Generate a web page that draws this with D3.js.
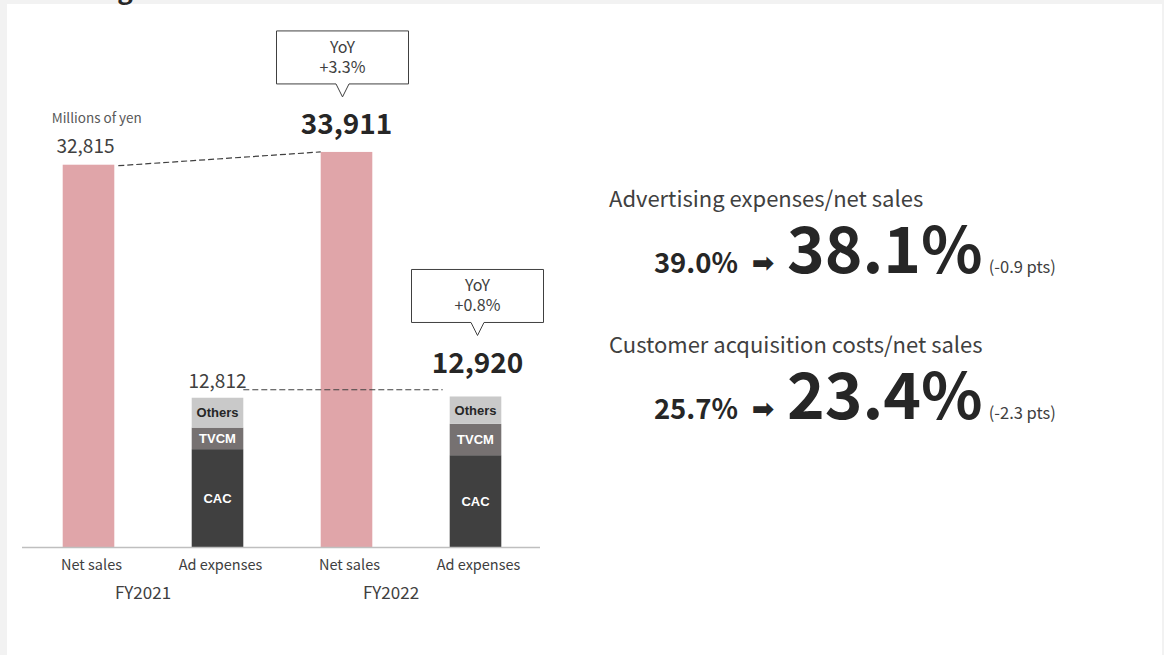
<!DOCTYPE html>
<html lang="en">
<head>
<meta charset="UTF-8"/>
<title>Net sales and advertising expenses</title>
<script src="https://d3js.org/d3.v7.min.js"></script>
<style>
	body { margin: 0; background: #f2f2f2; }
	svg { display: block; }
	text { font-family: "Noto Sans CJK JP", "Noto Sans", sans-serif; }
</style>
</head>
<body>
<script>
	// ***Data***
	var years = ["FY2021", "FY2022"];
	var netSales = [32815, 33911];
	var adExpenses = [12812, 12920];
	var segKeys = ["CAC", "TVCM", "Others"];
	var cac = [8400, 7880];
	var tvcm = [1850, 2690];
	var others = [2562, 2350];
	var yoyLabels = ["+3.3%", "+0.8%"];
	var barLabels = ["Net sales", "Ad expenses"];

	var ratioNames = ["Advertising expenses/net sales", "Customer acquisition costs/net sales"];
	var ratioPrev = [39.0, 25.7];
	var ratioCurr = [38.1, 23.4];
	var ratioChange = [-0.9, -2.3];

	// ***Variable declarations***
	var w = 1164;
	var h = 655;
	var baseY = 547;

	var slots = [];
	years.forEach(function(y) {
		barLabels.forEach(function(b) { slots.push(y + "|" + b); });
	});

	var xScale = d3.scaleBand()
		.domain(slots)
		.range([24, 540])
		.paddingInner(0.6)
		.paddingOuter(0.3);

	var yScale = d3.scaleLinear()
		.domain([0, 40000])
		.range([baseY, 81]);

	var segColor = d3.scaleOrdinal()
		.domain(segKeys)
		.range(["#404040", "#767171", "#c9c9c9"]);
	var segText = d3.scaleOrdinal()
		.domain(segKeys)
		.range(["#ffffff", "#ffffff", "#262626"]);

	var bw = xScale.bandwidth();
	var fmt = d3.format(",");

	var svg = d3.select("body")
		.append("svg")
		.attr("width", w)
		.attr("height", h);

	// panel + clipped heading from the slide above
	svg.append("rect")
		.attr("x", 7).attr("y", 4)
		.attr("width", 1155).attr("height", h)
		.attr("fill", "#ffffff");
	svg.append("text")
		.attr("x", 50).attr("y", -1)
		.attr("font-size", 26).attr("font-weight", "bold")
		.attr("fill", "#262626")
		.text("strong.");

	// ***Net sales bars***
	var netData = years.map(function(y, i) {
		return { year: y, i: i, value: netSales[i], slot: y + "|Net sales" };
	});
	svg.selectAll("rect.net")
		.data(netData)
		.enter()
		.append("rect")
		.attr("class", "net")
		.attr("x", function(d) { return xScale(d.slot); })
		.attr("y", function(d) { return yScale(d.value); })
		.attr("width", bw)
		.attr("height", function(d) { return baseY - yScale(d.value); })
		.attr("fill", "#e0a5a9");

	// ***Ad expense stacks***
	var stackRows = years.map(function(y, i) {
		return { year: y, CAC: cac[i], TVCM: tvcm[i], Others: others[i] };
	});
	var stacked = d3.stack().keys(segKeys)(stackRows);

	var layers = svg.selectAll("g.layer")
		.data(stacked)
		.enter()
		.append("g")
		.attr("class", "layer");

	function segRows(layer) {
		return layer.map(function(d) { return { key: layer.key, d0: d[0], d1: d[1], year: d.data.year }; });
	}

	layers.selectAll("rect")
		.data(segRows)
		.enter()
		.append("rect")
		.attr("x", function(d) { return xScale(d.year + "|Ad expenses"); })
		.attr("y", function(d) { return yScale(d.d1); })
		.attr("width", bw)
		.attr("height", function(d) { return yScale(d.d0) - yScale(d.d1); })
		.attr("fill", function(d) { return segColor(d.key); });

	layers.selectAll("text")
		.data(segRows)
		.enter()
		.append("text")
		.attr("x", function(d) { return xScale(d.year + "|Ad expenses") + bw / 2; })
		.attr("y", function(d) { return (yScale(d.d0) + yScale(d.d1)) / 2; })
		.attr("dy", "0.36em")
		.attr("text-anchor", "middle")
		.style("font-family", "'Liberation Sans', Arial, sans-serif")
		.attr("font-size", 13)
		.attr("font-weight", "bold")
		.attr("fill", function(d) { return segText(d.key); })
		.text(function(d) { return d.key; });

	// ***Axis line***
	svg.append("line")
		.attr("x1", 22).attr("x2", 540)
		.attr("y1", baseY + 0.5).attr("y2", baseY + 0.5)
		.attr("stroke", "#bfbfbf")
		.attr("stroke-width", 1.5);

	svg.selectAll("text.cat")
		.data(slots)
		.enter()
		.append("text")
		.attr("class", "cat")
		.attr("x", function(d) { return xScale(d) + bw / 2 + 3; })
		.attr("y", 570)
		.attr("text-anchor", "middle")
		.attr("font-size", 14.5)
		.attr("fill", "#404040")
		.text(function(d) { return d.split("|")[1]; });

	svg.selectAll("text.year")
		.data(years)
		.enter()
		.append("text")
		.attr("class", "year")
		.attr("x", function(d, i) { return (xScale(d + "|Net sales") + xScale(d + "|Ad expenses") + bw) / 2 - 10 - 10 * i; })
		.attr("y", 599)
		.attr("text-anchor", "middle")
		.attr("font-size", 17)
		.attr("fill", "#404040")
		.text(function(d) { return d; });

	// ***Value labels***
	svg.append("text")
		.attr("x", xScale(slots[0]) - 11)
		.attr("y", yScale(netSales[0]) - 42)
		.attr("font-size", 13.5)
		.attr("fill", "#595959")
		.text("Millions of yen");

	function valueLabel(slot, v, current, dx, gap) {
		svg.append("text")
			.attr("x", xScale(slot) + bw / 2 + dx)
			.attr("y", yScale(v) - gap)
			.attr("text-anchor", "middle")
			.attr("font-size", current ? 28 : 19)
			.attr("font-weight", current ? "bold" : "normal")
			.attr("fill", current ? "#262626" : "#404040")
			.text(fmt(v));
	}
	valueLabel(slots[0], netSales[0], false, -3, 12);
	valueLabel(slots[2], netSales[1], true, 0, 18);
	valueLabel(slots[1], adExpenses[0], false, 0, 10);
	valueLabel(slots[3], adExpenses[1], true, 2, 23);

	// dashed connectors
	svg.append("line")
		.attr("x1", xScale(slots[0]) + bw + 4).attr("y1", yScale(netSales[0]) + 1)
		.attr("x2", xScale(slots[2])).attr("y2", yScale(netSales[1]))
		.attr("stroke", "#404040").attr("stroke-width", 1.2)
		.attr("stroke-dasharray", "6,3");
	svg.append("line")
		.attr("x1", xScale(slots[1]) + bw).attr("y1", yScale(adExpenses[0]) - 8)
		.attr("x2", xScale(slots[3]) - 7).attr("y2", yScale(adExpenses[0]) - 8)
		.attr("stroke", "#404040").attr("stroke-width", 1.2)
		.attr("stroke-dasharray", "6,3");

	// ***YoY callouts***
	function callout(slot, v, label, dx, gap) {
		var cx = xScale(slot) + bw / 2 + dx;
		var bottom = yScale(v) - gap;
		var top = bottom - 53;
		var bx = 66, tw = 6.5, th = 13;
		var p = d3.path();
		p.moveTo(cx - bx, top);
		p.lineTo(cx + bx, top);
		p.lineTo(cx + bx, bottom);
		p.lineTo(cx + tw, bottom);
		p.lineTo(cx, bottom + th);
		p.lineTo(cx - tw, bottom);
		p.lineTo(cx - bx, bottom);
		p.closePath();
		svg.append("path")
			.attr("d", p.toString())
			.attr("fill", "#ffffff")
			.attr("stroke", "#404040")
			.attr("stroke-width", 1);
		var t = svg.append("text")
			.attr("text-anchor", "middle")
			.attr("font-size", 16).attr("fill", "#404040");
		t.append("tspan").attr("x", cx).attr("y", top + 22).text("YoY");
		t.append("tspan").attr("x", cx).attr("y", top + 42).text(label);
	}
	callout(slots[2], netSales[1], yoyLabels[0], -4, 68);
	callout(slots[3], adExpenses[1], yoyLabels[1], 2, 74);

	// ***Ratio panel***
	var rowY = [207, 353];
	ratioNames.forEach(function(name, i) {
		var y0 = rowY[i];
		svg.append("text")
			.attr("x", 609).attr("y", y0)
			.attr("font-size", 22).attr("fill", "#404040")
			.text(name);
		svg.append("text")
			.attr("x", 738).attr("y", y0 + 66)
			.attr("text-anchor", "end")
			.attr("font-size", 27.5).attr("font-weight", "bold")
			.attr("fill", "#262626")
			.text(ratioPrev[i].toFixed(1) + "%");
		svg.append("text")
			.attr("x", 763).attr("y", y0 + 65)
			.attr("text-anchor", "middle")
			.style("font-family", "'DejaVu Sans', sans-serif")
			.attr("font-size", 27).attr("font-weight", "bold")
			.attr("fill", "#262626")
			.text("\u27A1");
		var big = svg.append("text")
			.attr("x", 787).attr("y", y0 + 66)
			.attr("fill", "#262626");
		big.append("tspan")
			.attr("font-size", 64).attr("font-weight", "bold")
			.text(ratioCurr[i].toFixed(1) + "%");
		big.append("tspan")
			.attr("dx", 6)
			.attr("font-size", 16.5).attr("fill", "#404040")
			.text("(" + ratioChange[i].toFixed(1) + " pts)");
	});
</script>
</body>
</html>
